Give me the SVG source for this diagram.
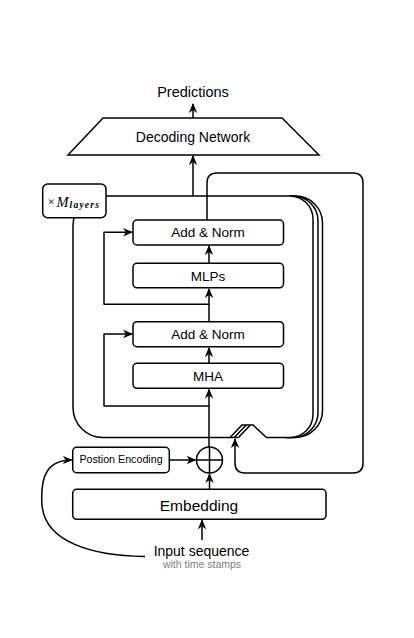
<svg xmlns="http://www.w3.org/2000/svg" width="414" height="638" viewBox="0 0 414 638">
<style>
.ln{fill:none;stroke:#000;stroke-width:1.5;stroke-linejoin:round}
.box{fill:#fff;stroke:#000;stroke-width:1.5}
.t{font-family:"Liberation Sans",Arial,sans-serif;fill:#000;text-anchor:middle}
.m{font-family:"Liberation Serif","Times New Roman",serif;font-style:italic;fill:#000}
</style>
<defs>
<marker id="arr" viewBox="0 0 10 10" refX="9" refY="5" markerWidth="10" markerHeight="10" markerUnits="userSpaceOnUse" orient="auto">
<path d="M0,0.8 L10,5 L0,9.2 L3,5 Z" fill="#000"/>
</marker>
</defs>
<rect width="414" height="638" fill="#fff"/>

<g id="predictions"><text class="t" x="193" y="97" font-size="14.5">Predictions</text></g>

<g id="decoding-network">
<polygon class="box" points="103,118 282,118 319,155 68,155"/>
<text class="t" x="193" y="141.5" font-size="14">Decoding Network</text>
</g>

<g id="layer-stack">
<path class="ln" d="M290,196 H295.5 A27,27 0 0 1 322.5,223 V410.5 A27,27 0 0 1 295.5,437.5 H287"/>
<path class="ln" d="M289,196 H293 A25,25 0 0 1 318,221 V412.5 A25,25 0 0 1 293,437.5 H286"/>
<path class="box" d="M103,196 H290 A23,23 0 0 1 313,219 V414.5 A23,23 0 0 1 290,437.5 H266.5 L253,425 H242 L230,437.5 H103 A30,30 0 0 1 73,407.5 V226 A30,30 0 0 1 103,196 Z"/>
<path class="ln" d="M230,437.5 H238.5 M234.2,437.5 L246.3,425 M238.5,437.5 L250.3,425"/>
</g>

<g id="m-layers">
<rect class="box" x="42.7" y="184" width="63.3" height="33.7" rx="5"/>
<text x="47.5" y="206" font-family="'Liberation Serif',serif" font-size="13" fill="#000">×</text>
<text class="m" x="56.5" y="206.7" font-size="14.5">M</text>
<text class="m" x="69.5" y="208" font-size="9.5" font-weight="bold" textLength="29.5" lengthAdjust="spacing">layers</text>
</g>

<g id="add-norm-2">
<rect class="box" x="133" y="220" width="150.5" height="25" rx="4"/>
<text class="t" x="208" y="237" font-size="13.5">Add &amp; Norm</text>
</g>
<g id="mlps">
<rect class="box" x="133" y="263.3" width="150.5" height="24.5" rx="4"/>
<text class="t" x="208" y="280.5" font-size="13.5">MLPs</text>
</g>
<g id="add-norm-1">
<rect class="box" x="133" y="321.7" width="150.5" height="25" rx="4"/>
<text class="t" x="208" y="339" font-size="13.5">Add &amp; Norm</text>
</g>
<g id="mha">
<rect class="box" x="133" y="363.3" width="150.5" height="25" rx="4"/>
<text class="t" x="208" y="380.5" font-size="13.5">MHA</text>
</g>

<g id="position-encoding">
<rect class="box" x="72.7" y="447.3" width="96.6" height="25.4" rx="4"/>
<text class="t" x="121" y="463" font-size="10.7">Postion Encoding</text>
</g>

<g id="add-op">
<circle class="box" cx="209.5" cy="460" r="13"/>
<path class="ln" d="M196.5,460 H222.5 M209.5,447 V473"/>
</g>

<g id="embedding">
<rect class="box" x="72.7" y="489.3" width="253.3" height="30" rx="4"/>
<text class="t" x="199" y="510.5" font-size="15.5">Embedding</text>
</g>

<g id="input">
<text class="t" x="201.5" y="556" font-size="14">Input sequence</text>
<text class="t" x="202" y="567.5" font-size="10.5" style="fill:#808080">with time stamps</text>
</g>

<g id="connectors">
<path class="ln" d="M193,118 V104" marker-end="url(#arr)"/>
<path class="ln" d="M193,196 V156" marker-end="url(#arr)"/>
<path class="ln" d="M209,263.3 V246" marker-end="url(#arr)"/>
<path class="ln" d="M209,321.7 V289" marker-end="url(#arr)"/>
<path class="ln" d="M209,363.3 V348" marker-end="url(#arr)"/>
<path class="ln" d="M209,447 V389.5" marker-end="url(#arr)"/>
<path class="ln" d="M209,304.3 H104 V232.3 H132" marker-end="url(#arr)"/>
<path class="ln" d="M209,406 H104 V334 H132" marker-end="url(#arr)"/>
<path class="ln" d="M207,220 V183 Q207,173 217,173 H353 Q363,173 363,183 V463 Q363,473 353,473 H245 Q235,473 235,463 V439" marker-end="url(#arr)"/>
<path class="ln" d="M169.3,460 H195.5" marker-end="url(#arr)"/>
<path class="ln" d="M209.5,489.3 V474" marker-end="url(#arr)"/>
<path class="ln" d="M202,540 V520.3" marker-end="url(#arr)"/>
<path class="ln" d="M145,556.5 C92,556 45,542 42,505 C40,475 48,460 71.7,460" marker-end="url(#arr)"/>
</g>
</svg>
